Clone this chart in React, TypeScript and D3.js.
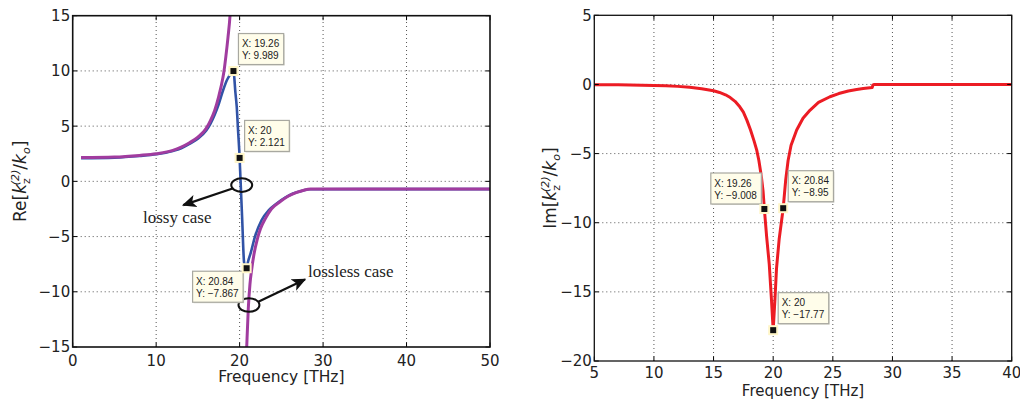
import React from 'react';
import * as d3 from 'd3';

// ---------- Left panel: Re[kz(2)/k0] ----------
const reXTicks = [0, 10, 20, 30, 40, 50];
const reYTicks = [-15, -10, -5, 0, 5, 10, 15];

// lossless case, branch below resonance
const losslessFreqA = [1, 5, 8, 10, 12, 13, 14, 15, 16, 16.5, 17, 17.5, 18, 18.13, 18.35, 18.6, 18.85, 19.0];
const losslessReA = [2.15, 2.2, 2.35, 2.5, 2.8, 3.1, 3.5, 4.0, 4.8, 5.5, 6.4, 7.7, 9.4, 10.0, 11.3, 13.0, 15.0, 17.0];
// lossless case, branch above resonance
const losslessFreqB = [20.7, 20.85, 21.04, 21.24, 21.44, 21.72, 22.1, 22.5, 23.1, 23.8, 24.84, 25.8, 26.84, 27.7, 28.5, 35, 50];
const losslessReB = [-18, -15, -11.5, -9.3, -8.0, -6.6, -5.3, -4.3, -3.35, -2.5, -1.85, -1.35, -1.0, -0.8, -0.7, -0.7, -0.7];

// lossy case
const lossyFreq = [1, 5, 8, 10, 12, 13, 14, 15, 16, 16.5, 17, 17.5, 18, 18.5, 19, 19.26, 19.5, 19.65, 19.8, 20, 20.1, 20.3, 20.53, 20.68, 20.84, 21.0, 21.32, 21.84, 22.64, 23.5, 24.44, 25.5, 26.4, 27.5, 28.4, 35, 50];
const lossyRe = [2.1, 2.15, 2.3, 2.45, 2.75, 3.0, 3.4, 3.85, 4.6, 5.2, 6.0, 7.0, 8.2, 9.2, 9.8, 9.989, 8.0, 6.8, 4.8, 2.121, 0.3, -3.3, -7.3, -7.75, -7.867, -7.3, -6.5, -5.0, -3.5, -2.6, -2.0, -1.45, -1.1, -0.85, -0.72, -0.7, -0.7];

const reTipX = [19.26, 20, 20.84];
const reTipY = [9.989, 2.121, -7.867];
const reTipPlace = ['ne', 'ne', 'sw'];

// annotations (data coordinates)
const annoEllipseX = [20.25, 21.12];
const annoEllipseY = [-0.34, -11.2];
const annoArrowFromX = [19.24, 22.24];
const annoArrowFromY = [-0.63, -10.9];
const annoArrowToX = [13.25, 27.83];
const annoArrowToY = [-2.15, -8.88];
const annoText = ['lossy case', 'lossless case'];
const annoTextX = [8.42, 28.19];
const annoTextY = [-3.78, -8.64];

// ---------- Right panel: Im[kz(2)/k0] ----------
const imXTicks = [5, 10, 15, 20, 25, 30, 35, 40];
const imYTicks = [-20, -15, -10, -5, 0, 5];
const imFreq = [5, 7, 9, 10, 11, 12, 13, 14, 14.5, 15, 15.5, 16, 16.4, 16.8, 17.2, 17.5, 17.8, 18.1, 18.4, 18.62, 18.8, 19.0, 19.15, 19.26, 19.45, 19.67, 19.85, 20, 20.15, 20.28, 20.5, 20.84, 21.05, 21.25, 21.5, 21.97, 22.5, 23.1, 23.8, 24.76, 25.5, 26.3, 27, 27.55, 28.3, 28.36, 28.45, 40];
const imVal = [-0.02, -0.03, -0.05, -0.07, -0.1, -0.14, -0.21, -0.31, -0.38, -0.46, -0.58, -0.75, -0.95, -1.22, -1.62, -2.0, -2.6, -3.3, -4.1, -4.75, -5.5, -6.6, -7.7, -9.008, -11.0, -13.0, -15.5, -17.77, -15.5, -13.3, -11.2, -8.95, -6.9, -5.5, -4.4, -3.3, -2.45, -1.85, -1.3, -0.89, -0.66, -0.47, -0.36, -0.29, -0.22, -0.05, 0, 0];

const imTipX = [19.26, 20.84, 20];
const imTipY = [-9.008, -8.95, -17.77];
const imTipPlace = ['nw', 'ne', 'ne'];

const FONT = "'DejaVu Sans', 'Liberation Sans', Arial, sans-serif";
const TIPFONT = "'Liberation Sans', Arial, Helvetica, sans-serif";

const fmt = (v: number) => String(v).replace('-', '\u2212');

let measureCtx: CanvasRenderingContext2D | null = null;
function textWidth(s: string, font: string) {
  if (!measureCtx) {
    const c = document.createElement('canvas');
    measureCtx = c.getContext('2d');
  }
  if (!measureCtx) return s.length * 5;
  measureCtx.font = font;
  return measureCtx.measureText(s).width;
}

type Scale = d3.ScaleLinear<number, number>;

function Grid({ x, y, xTicks, yTicks }: { x: Scale; y: Scale; xTicks: number[]; yTicks: number[] }) {
  const [x0, x1] = x.range();
  const [y0, y1] = y.range();
  return (
    <g>
      {xTicks.filter((t) => t !== x.domain()[0] && t !== x.domain()[1]).map((t) => (
        <line key={'gx' + t} x1={x(t)} x2={x(t)} y1={y0} y2={y1} stroke="#555" strokeWidth={1} strokeDasharray="1,3" />
      ))}
      {yTicks.filter((t) => t !== y.domain()[0] && t !== y.domain()[1]).map((t) => (
        <line key={'gy' + t} x1={x0} x2={x1} y1={y(t)} y2={y(t)} stroke="#555" strokeWidth={1} strokeDasharray="1,3" />
      ))}
    </g>
  );
}

function Axes({ x, y, xTicks, yTicks, strokeW, tickDy, xLabelDy, xLabelSize, yLabelX, yPrefix }: { x: Scale; y: Scale; xTicks: number[]; yTicks: number[]; strokeW: number; tickDy: number; xLabelDy: number; xLabelSize: number; yLabelX: number; yPrefix: string }) {
  const [x0, x1] = x.range();
  const [y0, y1] = y.range();
  const tl = 4.5;
  const cx = (x0 + x1) / 2;
  const cy = (y0 + y1) / 2;
  return (
    <g>
      {xTicks.map((t) => (
        <g key={'tx' + t}>
          <line x1={x(t)} x2={x(t)} y1={y0} y2={y0 - tl} stroke="#000" strokeWidth={1} />
          <line x1={x(t)} x2={x(t)} y1={y1} y2={y1 + tl} stroke="#000" strokeWidth={1} />
          <text x={x(t)} y={y0 + tickDy} textAnchor="middle" fontFamily={FONT} fontSize={15} fill="#222">{fmt(t)}</text>
        </g>
      ))}
      {yTicks.map((t) => (
        <g key={'ty' + t}>
          <line x1={x0} x2={x0 + tl} y1={y(t)} y2={y(t)} stroke="#000" strokeWidth={1} />
          <line x1={x1} x2={x1 - tl} y1={y(t)} y2={y(t)} stroke="#000" strokeWidth={1} />
          <text x={x0 - 2.5} y={y(t)} dy="0.36em" textAnchor="end" fontFamily={FONT} fontSize={15} fill="#222">{fmt(t)}</text>
        </g>
      ))}
      <rect x={x0} y={y1} width={x1 - x0} height={y0 - y1} fill="none" stroke="#111" strokeWidth={strokeW} />
      <text x={cx} y={y0 + xLabelDy} textAnchor="middle" fontFamily={FONT} fontSize={xLabelSize} fill="#222">Frequency [THz]</text>
      <text transform={`translate(${yLabelX},${cy}) rotate(-90)`} textAnchor="middle" fontFamily={FONT} fontSize={17} fill="#222">
        {yPrefix}[<tspan fontStyle="italic">k</tspan>
        <tspan fontSize={11} dy={4}>z</tspan>
        <tspan fontSize={11} dx={-7} dy={-11} fontStyle="italic">(2)</tspan>
        <tspan dy={7}>/</tspan>
        <tspan fontStyle="italic">k</tspan>
        <tspan fontSize={11} dy={4} fontStyle="italic">o</tspan>
        <tspan dy={-4}>]</tspan>
      </text>
    </g>
  );
}

function DataTip({ mx, my, xv, yv, place }: { mx: number; my: number; xv: number; yv: number; place: string }) {
  const l1 = 'X: ' + fmt(xv);
  const l2 = 'Y: ' + fmt(yv);
  const f = `10px ${TIPFONT}`;
  const w = Math.max(textWidth(l1, f), textWidth(l2, f)) + 8;
  const h = 31;
  let bx = mx + 5;
  let by = my - 37.5;
  if (place === 'nw') { bx = mx - 3 - w; by = my - 36; }
  if (place === 'sw') { bx = mx - 3.5 - w; by = my + 3; }
  return (
    <g>
      <rect x={bx + 1} y={by + 1} width={w} height={h} fill="#d8d8d0" />
      <rect x={bx} y={by} width={w} height={h} fill="#fffdea" stroke="#a8a8a0" strokeWidth={1.2} />
      <text x={bx + 3.5} y={by + 13.5} fontFamily={TIPFONT} fontSize={10} fill="#222">{l1}</text>
      <text x={bx + 3.5} y={by + 25.5} fontFamily={TIPFONT} fontSize={10} fill="#222">{l2}</text>
    </g>
  );
}

function Marker({ mx, my }: { mx: number; my: number }) {
  return <rect x={mx - 4} y={my - 4} width={8} height={8} fill="#111" stroke="#fff6c8" strokeWidth={2} />;
}

export default function App() {
  // left scales
  const xL = d3.scaleLinear().domain([0, 50]).range([72.7, 490]);
  const yL = d3.scaleLinear().domain([-15, 15]).range([347, 15.7]);
  // right scales
  const xR = d3.scaleLinear().domain([5, 40]).range([594.3, 1011.7]);
  const yR = d3.scaleLinear().domain([-20, 5]).range([361, 15.3]);

  const lineL = d3.line<[number, number]>().x((d) => xL(d[0])).y((d) => yL(d[1])).curve(d3.curveMonotoneX);
  const lineR = d3.line<[number, number]>().x((d) => xR(d[0])).y((d) => yR(d[1])).curve(d3.curveLinear);

  const zip = (a: number[], b: number[]) => a.map((v, i) => [v, b[i]] as [number, number]);

  const pathLossy = lineL(zip(lossyFreq, lossyRe)) || '';
  const pathA = lineL(zip(losslessFreqA, losslessReA)) || '';
  const pathB = lineL(zip(losslessFreqB, losslessReB)) || '';
  const pathIm = lineR(zip(imFreq, imVal)) || '';

  const [lx0, lx1] = xL.range();
  const [ly0, ly1] = yL.range();
  const [rx0, rx1] = xR.range();
  const [ry0, ry1] = yR.range();

  return (
    <svg width={1020} height={401} style={{ position: 'absolute', left: 0, top: 0, background: '#fff' }}>
      <defs>
        <clipPath id="clipL"><rect x={lx0} y={ly1} width={lx1 - lx0} height={ly0 - ly1} /></clipPath>
        <clipPath id="clipR"><rect x={rx0} y={ry1} width={rx1 - rx0} height={ry0 - ry1} /></clipPath>
        <marker id="arrowHead" viewBox="0 0 10 10" refX={9} refY={5} markerWidth={6.5} markerHeight={6.5} markerUnits="strokeWidth" orient="auto">
          <path d="M0,0.5 L10,5 L0,9.5 L2.5,5 Z" fill="#111" />
        </marker>
      </defs>
      <rect x={0} y={0} width={1020} height={401} fill="#fff" />

      {/* Left panel */}
      <Grid x={xL} y={yL} xTicks={reXTicks} yTicks={reYTicks} />
      <g clipPath="url(#clipL)">
        <path d={pathLossy} fill="none" stroke="#3153a6" strokeWidth={2.6} />
        <path d={pathA} fill="none" stroke="#a13c9f" strokeWidth={3} />
        <path d={pathB} fill="none" stroke="#a13c9f" strokeWidth={3} />
      </g>
      <Axes x={xL} y={yL} xTicks={reXTicks} yTicks={reYTicks} strokeW={1.6} tickDy={18.5} xLabelDy={35} xLabelSize={15.5} yLabelX={26} yPrefix="Re" />
      {annoEllipseX.map((ex, i) => (
        <g key={'an' + i}>
          <ellipse cx={xL(ex)} cy={yL(annoEllipseY[i])} rx={10.5} ry={6.8} fill="none" stroke="#111" strokeWidth={2} />
          <line x1={xL(annoArrowFromX[i])} y1={yL(annoArrowFromY[i])} x2={xL(annoArrowToX[i])} y2={yL(annoArrowToY[i])} stroke="#111" strokeWidth={2.2} markerEnd="url(#arrowHead)" />
          <text x={xL(annoTextX[i])} y={yL(annoTextY[i])} fontFamily="'Liberation Serif', 'Times New Roman', serif" fontSize={17} fill="#222">{annoText[i]}</text>
        </g>
      ))}
      {reTipX.map((tx, i) => (
        <DataTip key={'rt' + i} mx={xL(tx)} my={yL(reTipY[i])} xv={tx} yv={reTipY[i]} place={reTipPlace[i]} />
      ))}
      {reTipX.map((tx, i) => (
        <Marker key={'rm' + i} mx={xL(tx)} my={yL(reTipY[i])} />
      ))}

      {/* Right panel */}
      <Grid x={xR} y={yR} xTicks={imXTicks} yTicks={imYTicks} />
      <g clipPath="url(#clipR)">
        <path d={pathIm} fill="none" stroke="#ec1c24" strokeWidth={3} strokeLinejoin="round" />
      </g>
      <Axes x={xR} y={yR} xTicks={imXTicks} yTicks={imYTicks} strokeW={1.3} tickDy={17} xLabelDy={35} xLabelSize={15} yLabelX={556} yPrefix="Im" />
      {imTipX.map((tx, i) => (
        <DataTip key={'it' + i} mx={xR(tx)} my={yR(imTipY[i])} xv={tx} yv={imTipY[i]} place={imTipPlace[i]} />
      ))}
      {imTipX.map((tx, i) => (
        <Marker key={'im' + i} mx={xR(tx)} my={yR(imTipY[i])} />
      ))}
    </svg>
  );
}
